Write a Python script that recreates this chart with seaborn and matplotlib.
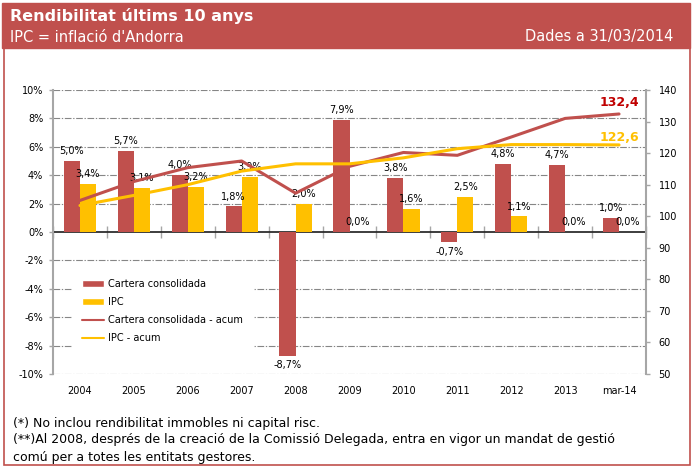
import numpy as np
import pandas as pd
import seaborn as sns
import matplotlib.pyplot as plt
from matplotlib.patches import Rectangle, Patch
from matplotlib.lines import Line2D

years = ["2004", "2005", "2006", "2007", "2008", "2009", "2010", "2011", "2012", "2013", "mar-14"]
cartera = [5.0, 5.7, 4.0, 1.8, -8.7, 7.9, 3.8, -0.7, 4.8, 4.7, 1.0]
ipc = [3.4, 3.1, 3.2, 3.9, 2.0, 0.0, 1.6, 2.5, 1.1, 0.0, 0.0]
cartera_acum = [105.0, 111.0, 115.4, 117.5, 107.3, 115.8, 120.2, 119.3, 125.1, 131.0, 132.4]
ipc_acum = [103.4, 106.6, 110.0, 114.3, 116.6, 116.6, 118.5, 121.4, 122.7, 122.7, 122.6]
series = ["Cartera consolidada", "IPC"]
line_labels = ["Cartera consolidada - acum", "IPC - acum"]

RED = "#C0504D"
YELLOW = "#FFC000"
DARKRED = "#C00000"
GRID = "#868686"
SPINE = "#A6A6A6"

sns.set_theme(style="white")
plt.rcParams["font.family"] = ["DejaVu Sans"]
plt.rcParams["text.color"] = "black"


def pct(v):
    return f"{v:.1f}%".replace(".", ",")


df = pd.DataFrame({
    "any": years * 2,
    "valor": cartera + ipc,
    "serie": [series[0]] * len(years) + [series[1]] * len(years),
})

fig = plt.figure(figsize=(6.94, 4.68), dpi=100)

# header band and frame
fig.patches.append(Rectangle((2 / 694, 1 - 48 / 468), 688 / 694, 45 / 468,
                             transform=fig.transFigure, color=RED, zorder=0))
fig.patches.append(Rectangle((4 / 694, 1 - 465 / 468), 686 / 694, 417 / 468,
                             transform=fig.transFigure, fill=False, edgecolor=RED, lw=1.2))
fig.text(10 / 694, 1 - 16 / 468, "Rendibilitat últims 10 anys", color="white",
         fontsize=11.5, fontweight="bold", va="center", ha="left")
fig.text(10 / 694, 1 - 37 / 468, "IPC = inflació d'Andorra", color="white",
         fontsize=10.5, va="center", ha="left")
fig.text(673 / 694, 1 - 37 / 468, "Dades a 31/03/2014", color="white",
         fontsize=10.5, va="center", ha="right")

ax = fig.add_axes([53 / 694, 1 - 374 / 468, 593 / 694, 284 / 468])
sns.barplot(data=df, x="any", y="valor", hue="serie", palette=[RED, YELLOW],
            width=0.6, gap=0, saturation=1, legend=False, linewidth=0, ax=ax)

for cont, vals in zip(ax.containers, [cartera, ipc]):
    ax.bar_label(cont, labels=[pct(v) for v in vals], padding=3.5, fontsize=7, color="black")

ax.set_ylim(-10, 10)
ax.set_yticks(np.arange(-10, 11, 2))
ax.set_yticklabels([f"{t}%" for t in range(-10, 11, 2)])
ax.set_xlim(-0.5, len(years) - 0.5)
ax.set_xlabel("")
ax.set_ylabel("")
ax.set_axisbelow(True)
ax.yaxis.grid(True, color=GRID, linestyle=(0, (6, 1.5, 1.2, 1.5)), lw=0.8)
for t, gl in zip(ax.get_yticks(), ax.get_ygridlines()):
    if t == 0:
        gl.set_visible(False)
for s in ["top", "right", "bottom"]:
    ax.spines[s].set_visible(False)
ax.spines["left"].set_color(SPINE)
ax.spines["left"].set_linewidth(1.5)
ax.tick_params(axis="x", length=0, pad=9, labelsize=7, colors="black")
ax.tick_params(axis="y", length=3, width=1, color=SPINE, pad=4, labelsize=7,
               labelcolor="black", left=True)

# zero line with category separators
zero = ax.secondary_xaxis(0.5)
zero.set_xticks(np.arange(len(years) + 1) - 0.5)
zero.set_xticklabels([])
zero.tick_params(axis="x", bottom=True, length=4, width=1, color=SPINE, direction="out")
zero.spines["bottom"].set_color(GRID)
zero.spines["bottom"].set_linewidth(1.2)

ax2 = ax.twinx()
x = np.arange(len(years))
sns.lineplot(x=x, y=cartera_acum, color=RED, lw=2.2, ax=ax2)
sns.lineplot(x=x, y=ipc_acum, color=YELLOW, lw=2.2, ax=ax2)
ax2.set_ylim(50, 140)
ax2.set_yticks(np.arange(50, 141, 10))
ax2.set_xlim(-0.5, len(years) - 0.5)
for s in ["top", "left", "bottom"]:
    ax2.spines[s].set_visible(False)
ax2.spines["right"].set_color(SPINE)
ax2.spines["right"].set_linewidth(1.5)
ax2.tick_params(axis="y", length=3, width=1, color=SPINE, pad=6, labelsize=7,
                labelcolor="black", right=True)
ax2.grid(False)

ax2.annotate(f"{cartera_acum[-1]:.1f}".replace(".", ","), (x[-1], cartera_acum[-1]),
             xytext=(0, 3.7), textcoords="offset points", ha="center", va="bottom",
             color=DARKRED, fontsize=9, fontweight="bold")
ax2.annotate(f"{ipc_acum[-1]:.1f}".replace(".", ","), (x[-1], ipc_acum[-1]),
             xytext=(0, 0.5), textcoords="offset points", ha="center", va="bottom",
             color=YELLOW, fontsize=9, fontweight="bold")

handles = [Patch(facecolor=RED), Patch(facecolor=YELLOW),
           Line2D([], [], color=RED, lw=1.5), Line2D([], [], color=YELLOW, lw=1.5)]
ax2.legend(handles, series + line_labels, loc="upper left", bbox_to_anchor=(0.032, 0.37),
           fontsize=7, frameon=True, facecolor="white", edgecolor="white", framealpha=1,
           fancybox=False, borderpad=1.0, handlelength=2.3, handletextpad=0.4,
           labelspacing=0.85, borderaxespad=0, labelcolor="black")

fig.text(13 / 694, 1 - 423 / 468, "(*) No inclou rendibilitat immobles ni capital risc.",
         fontsize=9, va="center", ha="left")
fig.text(13 / 694, 1 - 440 / 468,
         "(**)Al 2008, després de la creació de la Comissió Delegada, entra en vigor un mandat de gestió",
         fontsize=9, va="center", ha="left")
fig.text(13 / 694, 1 - 457 / 468, "comú per a totes les entitats gestores.",
         fontsize=9, va="center", ha="left")

fig.savefig("out.png", dpi=100, facecolor="white")
